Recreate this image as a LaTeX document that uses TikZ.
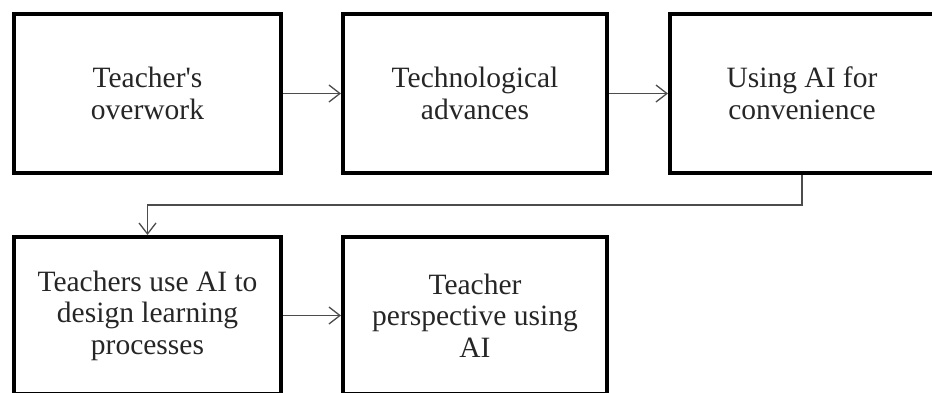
\documentclass[tikz,border=0pt]{standalone}
\usepackage{fontspec}
\setmainfont{Liberation Serif}[Ligatures=TeXOff]
\usetikzlibrary{arrows.meta}

\tikzset{StepBox/.style = {draw=black,line width=4pt,minimum height=159pt,inner sep=0pt,
		align=center,text=black!85,font=\fontsize{29.5}{31.5}\selectfont},
	FlowEdge/.style = {draw=black!70,line width=1.3pt,
		-{Straight Barb[length=11pt,width=17pt,line width=1.3pt]}}}

\begin{document}
\begin{tikzpicture}[x=1pt,y=-1pt]
		\useasboundingbox (0,0) rectangle (932,392);
		\clip (0,0) rectangle (932,392);
		% first row
		\node[StepBox,minimum width=267pt] (overwork) at (147.5,93.5) {Teacher's\\overwork};
		\node[StepBox,minimum width=264pt] (advances) at (475,93.5) {Technological\\advances};
		\node[StepBox,minimum width=264pt] (convenience) at (802,93.5) {Using AI for\\convenience};
		% second row, cut off at the bottom
		\node[StepBox,minimum width=267pt,minimum height=157pt] (design) at (147.5,315.5) {Teachers use AI to\\design learning\\processes};
		\node[StepBox,minimum width=264pt,minimum height=157pt] (perspective) at (475,315.5) {Teacher\\perspective using\\AI};
		\draw[FlowEdge] (overwork) -- (advances);
		\draw[FlowEdge] (advances) -- (convenience);
		\draw[FlowEdge] (convenience.south) -- ++(0,30) -| (design.north);
		\draw[FlowEdge] (design) -- (perspective);
	\end{tikzpicture}
\end{document}
